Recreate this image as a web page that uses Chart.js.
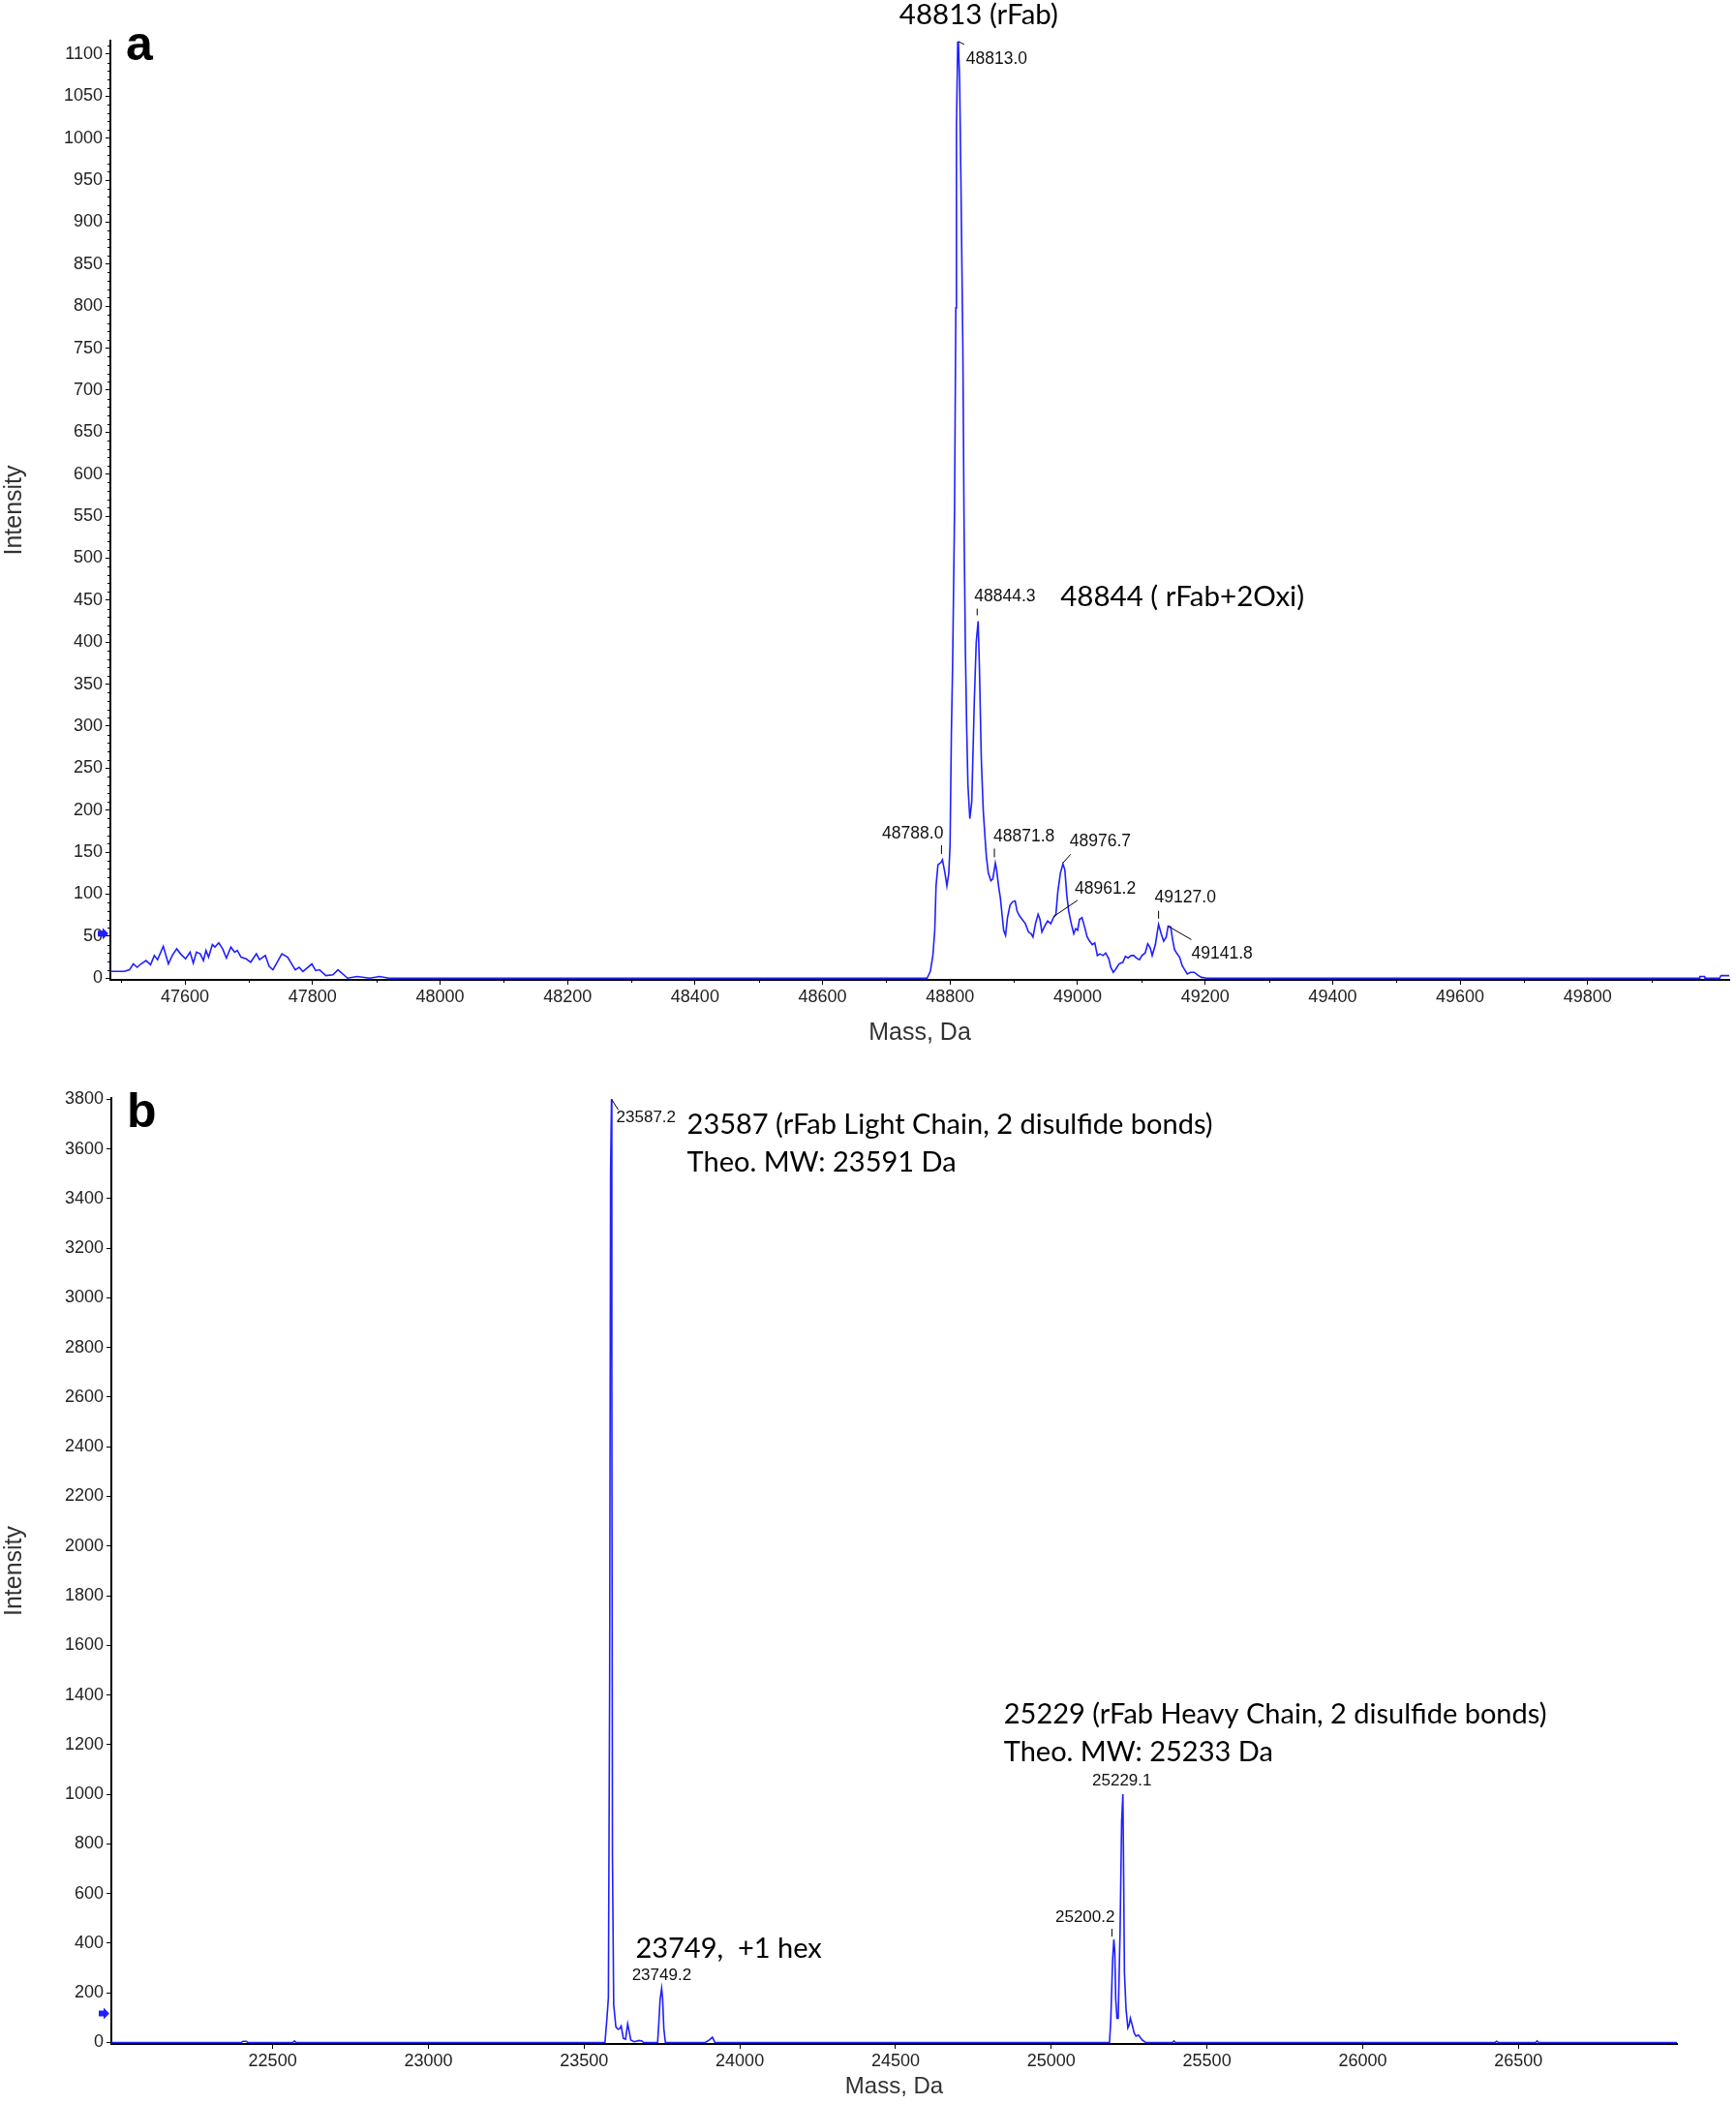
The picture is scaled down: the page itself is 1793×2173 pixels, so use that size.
<!DOCTYPE html>
<html>
<head>
<meta charset="utf-8">
<script src="https://cdn.jsdelivr.net/npm/chart.js@4.4.1/dist/chart.umd.min.js"></script>
<style>
  html, body { margin: 0; padding: 0; background: #fff; }
  #wrap { position: relative; width: 1793px; height: 2173px; }
  #chartA { position: absolute; left: 0; top: 0; }
  #chartB { position: absolute; left: 0; top: 1085px; }
</style>
</head>
<body>
<div id="wrap">
  <canvas id="chartA" width="1793" height="1085"></canvas>
  <canvas id="chartB" width="1793" height="1088"></canvas>
</div>
<script>
// ---- Panel a: intact rFab spectrum ----
const massA = [
  47483, 47505, 47513, 47519, 47525, 47531, 47539, 47546, 47552, 47557,
  47566, 47574, 47580, 47587, 47593, 47601, 47608, 47613, 47618, 47624,
  47629, 47633, 47637, 47643, 47647, 47653, 47659, 47665, 47672, 47678,
  47682, 47688, 47696, 47703, 47712, 47717, 47726, 47732, 47738, 47752,
  47761, 47773, 47779, 47785, 47799, 47805, 47811, 47821, 47832, 47840,
  47855, 47870, 47890, 47905, 47920, 48764, 48769, 48773, 48776, 48778,
  48781, 48786, 48788, 48792, 48795, 48798, 48800, 48802, 48804, 48807,
  48809, 48810, 48812, 48813, 48815, 48817, 48820, 48822, 48824, 48826,
  48828, 48831, 48834, 48838, 48841, 48844, 48846, 48849, 48852, 48855,
  48857, 48860, 48864, 48867, 48871, 48873, 48876, 48879, 48882, 48884,
  48887, 48890, 48894, 48898, 48902, 48905, 48909, 48913, 48918, 48923,
  48927, 48930, 48934, 48938, 48941, 48944, 48949, 48953, 48958, 48962,
  48966, 48969, 48973, 48977, 48980, 48983, 48986, 48990, 48994, 48997,
  49000, 49003, 49007, 49011, 49015, 49019, 49023, 49027, 49031, 49035,
  49040, 49044, 49049, 49052, 49056, 49060, 49065, 49071, 49075, 49079,
  49084, 49088, 49092, 49097, 49101, 49106, 49110, 49114, 49117, 49122,
  49125, 49127, 49131, 49135, 49139, 49142, 49146, 49149, 49152, 49156,
  49160, 49164, 49168, 49172, 49177, 49183, 49188, 49194, 49203, 49975,
  49976, 49983, 49984, 50007, 50009, 50030
];
const intensityA = [
  8, 8, 10, 17, 13, 17, 21, 16, 27, 22,
  38, 17, 27, 35, 29, 23, 31, 18, 31, 29,
  21, 33, 25, 40, 37, 42, 35, 24, 37, 31,
  33, 25, 23, 19, 29, 22, 27, 14, 10, 29,
  25, 10, 13, 8, 17, 9, 10, 3, 4, 10,
  0, 2, 0, 2, 0, 0, 8, 27, 57, 110,
  135, 138, 141, 125, 110, 125, 160, 290, 374, 556,
  798, 1014, 1114, 1115, 1068, 949, 753, 533, 392, 300,
  230, 190, 210, 330, 400, 425, 370, 260, 200, 165,
  144, 125, 116, 118, 137, 129, 110, 95, 72, 57,
  51, 72, 87, 91, 92, 80, 74, 70, 65, 55,
  53, 49, 65, 76, 70, 55, 63, 68, 65, 72,
  76, 103, 125, 136, 129, 99, 80, 65, 53, 59,
  57, 70, 72, 61, 49, 44, 40, 42, 27, 29,
  27, 30, 23, 13, 7, 11, 17, 19, 26, 24,
  27, 27, 24, 22, 27, 30, 41, 36, 27, 40,
  55, 64, 53, 44, 49, 62, 61, 46, 34, 29,
  25, 15, 10, 5, 7, 7, 4, 1, 0, 0,
  2, 2, 0, 0, 3, 3
];
const xTicksA = [47600, 47800, 48000, 48200, 48400, 48600, 48800, 49000, 49200, 49400, 49600, 49800];
const yTicksA = [0, 50, 100, 150, 200, 250, 300, 350, 400, 450, 500, 550,
  600, 650, 700, 750, 800, 850, 900, 950, 1000, 1050, 1100];
const peakMassA = [48813, 48844, 48788, 48871, 48977, 48962, 49127, 49142];
const peakHeightA = [1115, 425, 141, 137, 136, 72, 64, 62];
const peakTextA = ['48813.0', '48844.3', '48788.0', '48871.8', '48976.7', '48961.2', '49127.0', '49141.8'];
const noteTextA = ['48813 (rFab)', '48844 ( rFab+2Oxi)'];

// ---- Panel b: reduced light / heavy chain spectrum ----
const massB = [
  21982, 22400, 22405, 22415, 22420, 22565, 22570, 22575, 23567, 23573,
  23578, 23582, 23585, 23588, 23589, 23591, 23595, 23602, 23609, 23614,
  23619, 23626, 23633, 23640, 23645, 23650, 23661, 23676, 23686, 23691,
  23736, 23740, 23744, 23749, 23752, 23756, 23761, 23889, 23900, 23912,
  23920, 25187, 25191, 25197, 25201, 25204, 25207, 25211, 25215, 25221,
  25226, 25230, 25232, 25235, 25240, 25246, 25250, 25254, 25261, 25266,
  25272, 25280, 25292, 25303, 25389, 25394, 25399, 26425, 26430, 26435,
  26555, 26560, 26565, 27009
];
const intensityB = [
  0, 0, 5, 5, 0, 0, 6, 0, 0, 92,
  180, 1446, 3500, 3800, 2750, 753, 153, 63, 53, 56,
  66, 17, 13, 75, 43, 10, 3, 8, 6, 0,
  0, 80, 173, 218, 179, 56, 0, 0, 8, 21,
  0, 0, 85, 332, 415, 364, 176, 98, 98, 449,
  891, 1000, 741, 280, 137, 59, 70, 98, 65, 39,
  25, 30, 10, 0, 0, 6, 0, 0, 5, 0,
  0, 6, 0, 0
];
const xTicksB = [22500, 23000, 23500, 24000, 24500, 25000, 25500, 26000, 26500];
const yTicksB = [0, 200, 400, 600, 800, 1000, 1200, 1400, 1600, 1800, 2000,
  2200, 2400, 2600, 2800, 3000, 3200, 3400, 3600, 3800];
const peakMassB = [23588, 23749, 25201, 25230];
const peakHeightB = [3800, 218, 415, 1000];
const peakTextB = ['23587.2', '23749.2', '25200.2', '25229.1'];
const noteTextB = [
  '23587 (rFab Light Chain, 2 disulfide bonds)', 'Theo. MW: 23591 Da',
  '23749,  +1 hex',
  '25229 (rFab Heavy Chain, 2 disulfide bonds)', 'Theo. MW: 25233 Da'
];

// label placement, in pixels relative to the peak point
const peakLayoutA = [
  { dx: 8, dy: 18, align: 'left', line: [0, 0, 6, 3] },
  { dx: -4, dy: -25, align: 'left', line: [-1, -13, -1, -6] },
  { dx: 1, dy: -27, align: 'right', line: [-1, -15, -1, -6] },
  { dx: -2, dy: -27, align: 'left', line: [-1, -15, -1, -6] },
  { dx: 7, dy: -23, align: 'left', line: [0, -1, 8, -10] },
  { dx: 22, dy: -30, align: 'left', line: [0, -1, 25, -18] },
  { dx: -4, dy: -28, align: 'left', line: [0, -14, 0, -6] },
  { dx: 24, dy: 29, align: 'left', line: [0, 0, 24, 14] }
];
const noteLayoutA = [
  { peak: 0, dx: 21, dy: -27, align: 'center' },
  { peak: 1, dx: 85, dy: -25, align: 'left' }
];
const peakLayoutB = [
  { dx: 5, dy: 19, align: 'left', line: [0, 0, 7, 11] },
  { dx: 0, dy: -13, align: 'center', line: null },
  { dx: 1, dy: -23, align: 'right', line: [-2, -11, -2, -3] },
  { dx: -1, dy: -14, align: 'center', line: null }
];
const noteLayoutB = [
  { peak: 0, dx: 78, dy: 26, align: 'left' },
  { peak: 0, dx: 78, dy: 65, align: 'left' },
  { peak: 1, dx: -27, dy: -41, align: 'left' },
  { peak: 3, dx: -123, dy: -82, align: 'left' },
  { peak: 3, dx: -123, dy: -43, align: 'left' }
];

const LINE_BLUE = '#1f1fff';
const SANS = "'Liberation Sans', Arial, sans-serif";

// Draws minor ticks, the threshold arrow, peak labels and annotations
const spectrumNotes = {
  id: 'spectrumNotes',
  afterDraw(chart, args, opts) {
    const ctx = chart.ctx;
    const xs = chart.scales.x;
    const ys = chart.scales.y;
    const area = chart.chartArea;
    ctx.save();
    ctx.strokeStyle = '#000';
    ctx.lineWidth = 1;

    // minor ticks
    (opts.minorX || []).forEach(v => {
      const px = Math.round(xs.getPixelForValue(v)) + 0.5;
      ctx.beginPath();
      ctx.moveTo(px, area.bottom);
      ctx.lineTo(px, area.bottom + 3);
      ctx.stroke();
    });
    (opts.minorY || []).forEach(v => {
      const py = Math.round(ys.getPixelForValue(v)) + 0.5;
      ctx.beginPath();
      ctx.moveTo(area.left - 3, py);
      ctx.lineTo(area.left, py);
      ctx.stroke();
    });

    // blue threshold arrow on the y axis
    if (opts.marker !== undefined) {
      const my = ys.getPixelForValue(opts.marker);
      const mx = area.left - 10;
      ctx.fillStyle = LINE_BLUE;
      ctx.beginPath();
      ctx.moveTo(mx - 3, my - 3);
      ctx.lineTo(mx + 2, my - 3);
      ctx.lineTo(mx + 2, my - 6);
      ctx.lineTo(mx + 8, my);
      ctx.lineTo(mx + 2, my + 6);
      ctx.lineTo(mx + 2, my + 3);
      ctx.lineTo(mx - 3, my + 3);
      ctx.closePath();
      ctx.fill();
    }

    // peak labels
    ctx.fillStyle = '#111';
    ctx.textBaseline = 'middle';
    ctx.font = opts.peakFont;
    const pts = opts.mass.map((m, i) => ({
      x: xs.getPixelForValue(m),
      y: ys.getPixelForValue(opts.height[i])
    }));
    opts.peakText.forEach((t, i) => {
      const p = pts[i];
      const l = opts.peakLayout[i];
      if (l.line) {
        ctx.beginPath();
        ctx.moveTo(p.x + l.line[0], p.y + l.line[1]);
        ctx.lineTo(p.x + l.line[2], p.y + l.line[3]);
        ctx.stroke();
      }
      ctx.textAlign = l.align;
      ctx.fillText(t, p.x + l.dx, p.y + l.dy);
    });

    // big annotations
    ctx.font = opts.noteFont;
    ctx.fillStyle = '#000';
    opts.noteText.forEach((t, i) => {
      const l = opts.noteLayout[i];
      const p = pts[l.peak];
      ctx.textAlign = l.align;
      ctx.fillText(t, p.x + l.dx, p.y + l.dy);
    });

    // panel letter
    ctx.font = 'bold 50px ' + SANS;
    ctx.textAlign = 'left';
    ctx.textBaseline = 'alphabetic';
    ctx.fillText(opts.letter, area.left + 16, area.top + opts.letterDy);
    ctx.restore();
  }
};

function makeChart(canvasId, cfg) {
  const ctx = document.getElementById(canvasId).getContext('2d');
  return new Chart(ctx, {
    type: 'line',
    data: {
      datasets: [{
        data: cfg.mass.map((m, i) => ({ x: m, y: cfg.intensity[i] })),
        borderColor: LINE_BLUE,
        borderWidth: 1.6,
        pointRadius: 0,
        tension: 0,
        fill: false
      }]
    },
    options: {
      responsive: false,
      animation: false,
      devicePixelRatio: 1,
      layout: { padding: cfg.padding },
      plugins: {
        legend: { display: false },
        tooltip: { enabled: false },
        spectrumNotes: cfg.notes
      },
      scales: {
        x: {
          type: 'linear',
          min: cfg.xMin,
          max: cfg.xMax,
          afterBuildTicks: scale => { scale.ticks = cfg.xTicks.map(v => ({ value: v })); },
          afterFit: scale => { scale.height = cfg.xHeight; },
          ticks: {
            autoSkip: false,
            maxRotation: 0,
            padding: 2,
            color: '#222',
            font: { family: SANS, size: 18 },
            callback: v => String(v)
          },
          grid: { drawOnChartArea: false, drawTicks: true, tickLength: 5, color: '#000', lineWidth: 1 },
          border: { display: true, color: '#000', width: 2 },
          title: {
            display: true,
            text: 'Mass, Da',
            color: '#333',
            font: { family: SANS, size: cfg.xTitleSize },
            padding: { top: 0, bottom: 3 }
          }
        },
        y: {
          min: cfg.yMin,
          max: cfg.yMax,
          afterBuildTicks: scale => { scale.ticks = cfg.yTicks.map(v => ({ value: v })); },
          afterFit: scale => { scale.width = cfg.yWidth; },
          ticks: {
            autoSkip: false,
            padding: 3,
            color: '#222',
            font: { family: SANS, size: 18 },
            callback: v => String(v)
          },
          grid: { drawOnChartArea: false, drawTicks: true, tickLength: 5, color: '#000', lineWidth: 1 },
          border: { display: true, color: '#000', width: 2 },
          title: {
            display: true,
            text: 'Intensity',
            color: '#333',
            font: { family: SANS, size: 25 },
            padding: { top: 0, bottom: 0 }
          }
        }
      }
    },
    plugins: [spectrumNotes]
  });
}

const minorXA = [];
for (let v = 47500; v <= 50000; v += 100) if (v % 200 !== 0) minorXA.push(v);
const minorYA = [];
for (let v = 10; v <= 1110; v += 10) if (v % 50 !== 0) minorYA.push(v);

makeChart('chartA', {
  mass: massA, intensity: intensityA,
  xMin: 47483, xMax: 50022, yMin: -2, yMax: 1116,
  xTicks: xTicksA, yTicks: yTicksA,
  padding: { top: 42, right: 7, left: 0, bottom: 0 },
  xHeight: 73, yWidth: 114,
  xTitleSize: 25,
  notes: {
    mass: peakMassA, height: peakHeightA, peakText: peakTextA, peakLayout: peakLayoutA,
    noteText: noteTextA, noteLayout: noteLayoutA,
    peakFont: '17.5px ' + SANS, noteFont: '29.5px Lato, sans-serif',
    minorX: minorXA, minorY: minorYA, marker: 53,
    letter: 'a', letterDy: 20
  }
});

makeChart('chartB', {
  mass: massB, intensity: intensityB,
  xMin: 21982, xMax: 27009, yMin: -6, yMax: 3805,
  xTicks: xTicksB, yTicks: yTicksB,
  padding: { top: 49, right: 61, left: 0, bottom: 0 },
  xHeight: 62, yWidth: 115,
  xTitleSize: 24,
  notes: {
    mass: peakMassB, height: peakHeightB, peakText: peakTextB, peakLayout: peakLayoutB,
    noteText: noteTextB, noteLayout: noteLayoutB,
    peakFont: '17px ' + SANS, noteFont: '29px Lato, sans-serif',
    marker: 117,
    letter: 'b', letterDy: 30
  }
});
</script>
</body>
</html>
